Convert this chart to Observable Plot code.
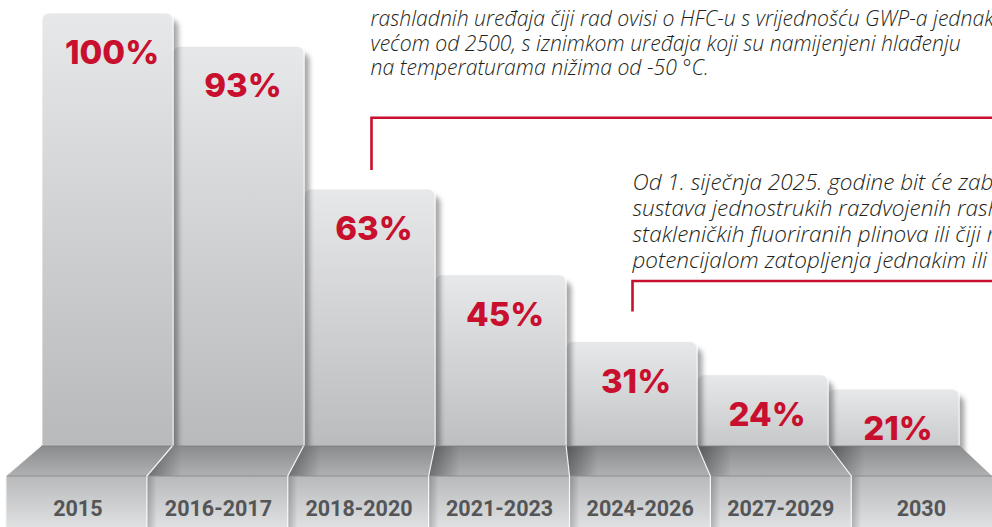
<!DOCTYPE html>
<html><head><meta charset="utf-8">
<script src="https://cdn.jsdelivr.net/npm/d3@7"></script>
<script src="https://cdn.jsdelivr.net/npm/@observablehq/plot@0.6"></script>
<style>html,body{margin:0;padding:0;background:#fff;overflow:hidden}</style>
</head><body><div id="chart"></div>
<script>
// ---- data ----
const categories = ["2015", "2016-2017", "2018-2020", "2021-2023", "2024-2026", "2027-2029", "2030"];
const values = [100, 93, 63, 45, 31, 24, 21];
const note1 = [
  "rashladnih uređaja čiji rad ovisi o HFC-u s vrijednošću GWP-a jednakom",
  "većom od 2500, s iznimkom uređaja koji su namijenjeni hlađenju",
  "na temperaturama nižima od -50 °C."
];
const note2 = [
  "Od 1. siječnja 2025. godine bit će zabranjeno",
  "sustava jednostrukih razdvojenih rashladnih",
  "stakleničkih fluoriranih plinova ili čiji rad",
  "potencijalom zatopljenja jednakim ili većim"
];

// ---- layout ----
const W = 992, H = 527;
const RED = "#c8102e";
const VP = 520, K = 1.073;           // perspective of the platform
const Y0 = 446, Y1 = 476, Y2 = 527;  // platform back edge, front edge, bottom

const data = categories.map((c, i) => ({cat: c, value: values[i]}));
const xOpts = {type: "band", domain: categories, range: [41, 960], padding: 0};
const yOpts = {type: "linear", domain: [0, 100], range: [489, 13]};
const xs = Plot.scale({x: xOpts});
const bw = xs.bandwidth;
const front = xb => VP + K * (xb - VP);

const labelMarks = categories.map(c => Plot.text([c], {
  x: d => d, frameAnchor: "bottom", dy: -12,
  dx: (K - 1) * (xs.apply(c) + bw / 2 - VP),
  fontFamily: "Roboto", fontWeight: 700, fontSize: 21.5, fill: "#545557"
}));

const noteStyle = {
  frameAnchor: "top-left", lineAnchor: "top", textAnchor: "start",
  fontFamily: "Open Sans", fontStyle: "italic", fontWeight: 300, fill: "#231f20"
};

const plot = Plot.plot({
  width: W, height: H,
  marginTop: 0, marginRight: 0, marginBottom: 0, marginLeft: 0,
  x: {...xOpts, axis: null},
  y: {...yOpts, axis: null},
  style: {background: "#fff", overflow: "hidden"},
  marks: [
    Plot.barY(data.slice().reverse(), {
      x: "cat", y: "value", fill: "url(#barGrad)", rx: 7,
      stroke: "#ffffff", strokeOpacity: 0.75, strokeWidth: 1
    }),
    Plot.text(data, {
      x: "cat", y: "value", text: d => d.value + "%", dy: 40, dx: 4,
      fontFamily: "Inter", fontWeight: 800, fontSize: 33, fill: RED
    }),
    ...labelMarks,
    Plot.text([note1.join("\n")], {...noteStyle, fontSize: 21.2, dx: 370, dy: 8.4, lineHeight: 1.156}),
    Plot.text([note2.join("\n")], {...noteStyle, fontSize: 22.5, dx: 632, dy: 170.7, lineHeight: 1.156})
  ]
});
document.getElementById("chart").append(plot);

// ---- decorations ----
const svg = d3.select(plot);
const defs = svg.insert("defs", ":first-child");
function lin(id, vertical, stops) {
  const g = defs.append("linearGradient").attr("id", id)
    .attr("x1", 0).attr("y1", 0).attr("x2", vertical ? 0 : 1).attr("y2", vertical ? 1 : 0);
  stops.forEach(([o, c, op]) => g.append("stop").attr("offset", o).attr("stop-color", c).attr("stop-opacity", op ?? 1));
}
lin("barGrad", true, [[0, "#e7e8ea"], [0.85, "#bbbcbe"], [1, "#b6b7b9"]]);
lin("topGrad", true, [[0, "#8a8b8d"], [1, "#b0b1b3"]]);
lin("frontGrad", true, [[0, "#b8b9bb"], [1, "#dfe0e2"]]);
lin("shadeTop", false, [[0, "#000", 0.38], [0.22, "#000", 0]]);
lin("shadeFront", false, [[0, "#000", 0.22], [0.07, "#000", 0]]);
const f = defs.append("filter").attr("id", "sh").attr("x", "-10%").attr("y", "-10%").attr("width", "130%").attr("height", "130%");
f.append("feDropShadow").attr("dx", 5).attr("dy", 7).attr("stdDeviation", 2.5)
  .attr("flood-color", "#000").attr("flood-opacity", 0.35);
svg.selectAll('g[aria-label="bar"] rect').attr("filter", "url(#sh)");

const edges = categories.map(c => xs.apply(c)).concat([xs.apply(categories[categories.length - 1]) + bw]);
const fEdges = edges.map(front);
const g = svg.insert("g", 'g[aria-label="text"]');
for (let i = 0; i < categories.length; i++) {
  const d = `M${edges[i]},${Y0}L${edges[i + 1]},${Y0}L${fEdges[i + 1]},${Y1}L${fEdges[i]},${Y1}Z`;
  g.append("path").attr("d", d).attr("fill", "url(#topGrad)");
  if (i > 0) g.append("path").attr("d", d).attr("fill", "url(#shadeTop)");
  g.append("rect").attr("x", fEdges[i]).attr("y", Y1).attr("width", fEdges[i + 1] - fEdges[i]).attr("height", Y2 - Y1).attr("fill", "url(#frontGrad)");
  if (i > 0) g.append("rect").attr("x", fEdges[i]).attr("y", Y1).attr("width", fEdges[i + 1] - fEdges[i]).attr("height", Y2 - Y1).attr("fill", "url(#shadeFront)");
}
g.append("line").attr("x1", fEdges[0]).attr("x2", fEdges[fEdges.length - 1]).attr("y1", Y1).attr("y2", Y1)
  .attr("stroke", "#8c8d8f").attr("stroke-width", 1);
g.append("line").attr("x1", edges[0]).attr("x2", edges[edges.length - 1]).attr("y1", Y0).attr("y2", Y0)
  .attr("stroke", "#7d7e80").attr("stroke-width", 0.8);
for (let i = 1; i < categories.length; i++) {
  g.append("path").attr("d", `M${edges[i]},${Y0}L${fEdges[i]},${Y1}L${fEdges[i]},${Y2}`)
    .attr("fill", "none").attr("stroke", "#fff").attr("stroke-opacity", 0.9).attr("stroke-width", 1.2);
}
g.append("path").attr("d", `M${edges[0]},${Y0}L${fEdges[0]},${Y1}L${fEdges[0]},${Y2}`)
  .attr("fill", "none").attr("stroke", "#f2f2f2").attr("stroke-width", 1);

// red brackets under the notes
const br = svg.append("g").attr("fill", "none").attr("stroke", RED).attr("stroke-width", 2.6);
br.append("path").attr("d", `M371.5,170V117.8H${W + 5}`);
br.append("path").attr("d", `M632.5,311.5V281H${W + 5}`);
</script></body></html>
